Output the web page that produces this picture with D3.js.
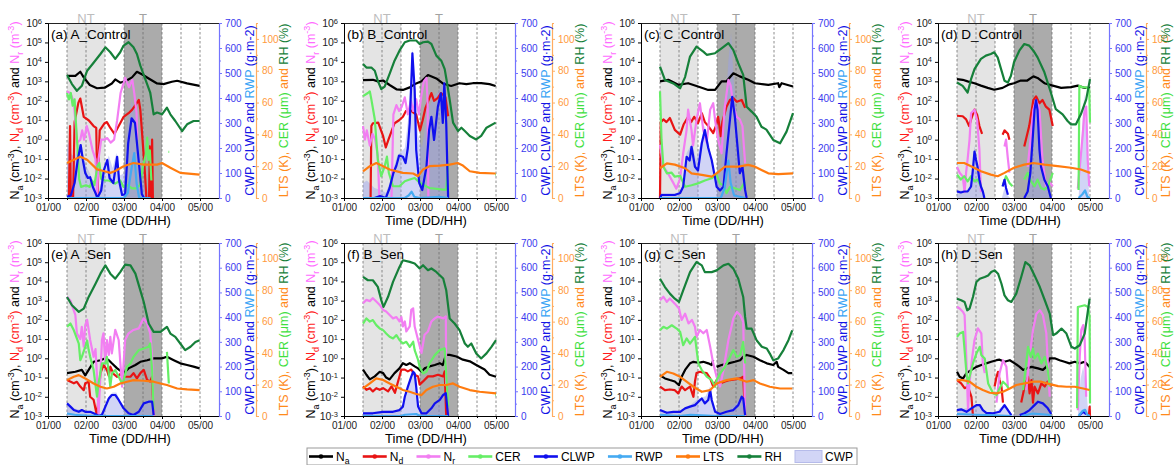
<!DOCTYPE html>
<meta charset="utf-8">
<head>
<style>
  body {margin: 0; background: #fff;}
  text {font-family: Arial, "Liberation Sans", sans-serif;}
</style>
<script src="https://d3js.org/d3.v7.min.js"></script>
</head>
<body>
<script>
// ---- data: [day since 01/00, value] ; null breaks a line ----
var aNa = [[0.5,1900],[0.72,1900],[0.85,3100],[0.94,1600],[1.1,650],[1.29,440],[1.49,470],[1.68,780],[1.77,1250],[1.9,850],[2.06,1070],[2.21,1600],[2.34,3100],[2.47,2300],[2.65,1400],[2.87,780],[3.04,720],[3.26,950],[3.4,1070],[3.66,780],[3.99,580]];
var aNd = [[0.5,1e-3],[0.55,1e-3],[0.58,5],[0.6,1e-3],[0.66,1e-3],[0.7,8],[0.8,80],[0.85,130],[0.94,15],[1.07,10],[1.2,5],[1.27,4],[1.3,1e-3],[1.36,3],[1.49,7],[1.55,8],[1.64,4],[1.75,2],[1.9,7],[1.99,15],[2.12,23],[2.21,34],[2.3,60],[2.39,110],[2.43,34],[2.47,3],[2.54,0.04],[2.59,1e-3],null,[2.66,1e-3],[2.68,0.45],[2.71,1e-3],[2.73,1e-3],[2.74,1],[2.76,1e-3]];
var aNr = [[0.5,300],[0.58,250],[0.63,160],[0.68,80],[0.74,3],[0.77,0.7],[0.85,1],[0.9,3],[0.95,1],[1.02,5],[1.08,2],[1.17,0.3],[1.25,0.1],[1.29,1e-3],[1.33,0.1],[1.4,1],[1.47,1],[1.56,1.2],[1.65,0.7],[1.74,1],[1.82,10],[1.91,250],[2.03,1500],[2.13,500],[2.22,1200],[2.27,250],[2.33,24],[2.35,1]];
var aCER = [[0.5,66],[0.55,62],[0.6,66],[0.65,58],[0.7,62],[0.72,53],[0.78,30],[0.82,12],[0.87,7],[1.0,8],[1.1,7],[1.16,11],[1.22,8],[1.3,20],[1.35,22],[1.4,12],[1.5,11],[1.6,11],[1.77,9],[1.9,11],[1.99,7],[2.1,8],[2.21,6],[2.32,6],[2.42,8],[2.5,20],[2.58,28],[2.61,38],[2.64,24],[2.68,30],[2.72,11],null,[3.17,29],[3.19,29]];
var aCLWP = [[0.5,5],[0.6,10],[0.7,60],[0.78,150],[0.86,212],[0.92,150],[0.98,100],[1.05,80],[1.11,83],[1.18,44],[1.25,20],[1.3,0],[1.4,30],[1.47,112],[1.56,152],[1.62,80],[1.72,60],[1.82,165],[1.87,70],[1.95,12],[2.03,15],[2.11,219],[2.2,319],[2.29,300],[2.35,205],[2.41,112],[2.47,15],[2.53,0]];
var aRWP = [[0.5,0],[2.0,0],[2.1,20],[2.2,120],[2.27,180],[2.33,60],[2.4,0],[2.7,0]];
var aCWP = [[0.5,200],[0.55,230],[0.6,180],[0.7,160],[0.8,220],[0.9,190],[1.0,130],[1.1,100],[1.2,60],[1.3,10],[1.4,60],[1.5,130],[1.6,170],[1.7,120],[1.8,180],[1.9,90],[2.0,100],[2.1,300],[2.2,390],[2.3,340],[2.4,200],[2.5,60],[2.6,20],[2.7,0]];
var aLTS = [[0.5,22],[0.85,26],[1.03,24],[1.29,18],[1.46,17],[1.64,15.8],[1.77,17],[1.99,20],[2.25,22],[2.52,21],[2.87,21],[3.0,22],[3.22,19],[3.48,15.8],[3.99,14.7]];
var aRH = [[0.5,77.3],[0.63,71.6],[0.76,67.4],[0.89,70.5],[1.03,80],[1.2,85],[1.38,90.5],[1.51,94.7],[1.64,91.6],[1.77,87.4],[1.9,91.6],[1.99,95.8],[2.12,97.9],[2.25,94.7],[2.34,90.5],[2.43,83.2],[2.56,74.7],[2.69,66.3],[2.78,52.6],[2.87,53.7],[3.0,52.6],[3.13,56.8],[3.22,52.6],[3.35,48.4],[3.53,42.1],[3.66,46.3],[3.83,48.4],[3.99,48.4]];

var bNa = [[0.5,1150],[0.76,1200],[0.89,1000],[1.03,1100],[1.2,650],[1.38,390],[1.55,360],[1.73,490],[1.9,780],[2.04,1000],[2.21,2100],[2.43,1400],[2.6,780],[2.82,580],[3.04,800],[3.22,720],[3.39,800],[3.61,800],[3.83,720],[3.99,580]];
var bNd = [[0.7,1e-3],[0.72,5],[0.76,7],[0.9,7.5],[1.03,1.5],[1.1,0.4],[1.17,1],[1.33,7],[1.45,10],[1.55,15],[1.63,30],[1.73,35],[1.82,25],[1.9,20],[2.0,3],[2.07,10],[2.14,40],[2.21,90],[2.3,250],[2.37,100],[2.47,140],[2.55,250],[2.61,200],[2.67,150],[2.74,16]];
var bNr = [[0.5,5],[0.55,1],[0.6,3],[0.68,0.5],[0.75,2],[0.82,1],[0.89,0.15],[0.93,1e-3],null,[1.25,1e-3],[1.3,20],[1.38,60],[1.45,30],[1.52,50],[1.6,150],[1.68,20],[1.76,100],[1.82,30],[1.9,120],[1.97,20],[2.03,150],[2.1,1000],[2.17,1500],[2.2,80],[2.22,1e-3]];
var bCER = [[0.5,64],[0.63,66],[0.68,67],[0.72,62],[0.81,49.5],[0.89,24],[0.98,13.7],[1.07,20],[1.13,26],[1.18,15.8],[1.29,7.4],[1.46,7.4],[1.6,10.5],[1.73,11.6],[1.86,12.6],[1.95,10.5],[2.08,8.4],[2.25,6.3],[2.6,5.3],[2.69,5.3],[2.74,22],null,[3.98,14.7],[4.0,14.7]];
var bCLWP = [[0.5,0],[0.8,0],[0.95,8],[1.1,0],[1.2,40],[1.3,100],[1.38,130],[1.45,170],[1.55,165],[1.62,140],[1.68,200],[1.73,300],[1.8,579],[1.86,432],[1.9,192],[1.98,60],[2.06,32],[2.17,125],[2.24,272],[2.3,325],[2.37,232],[2.47,365],[2.55,419],[2.6,300],[2.64,459],[2.69,300],[2.74,0]];
var bRWP = [[0.5,0],[1.6,0],[1.7,10],[1.78,25],[1.85,5],[2.0,0],[2.5,5],[2.74,0]];
var bCWP = [[0.5,60],[0.6,70],[0.8,40],[1.0,30],[1.1,20],[1.2,60],[1.4,170],[1.6,200],[1.7,330],[1.8,600],[1.86,450],[1.95,250],[2.05,200],[2.2,350],[2.35,400],[2.5,430],[2.64,470],[2.7,400],[2.74,0]];
var bLTS = [[0.5,16.8],[0.68,20],[0.85,22],[1.03,20],[1.2,17.9],[1.55,15.8],[1.82,15.4],[1.95,13.7],[2.08,17.9],[2.25,20],[2.52,20.4],[2.78,21],[2.99,22],[3.13,20.4],[3.31,16.8],[3.57,15.8],[3.99,15.4]];
var bRH = [[0.5,84.2],[0.59,82],[0.72,82],[0.81,80],[0.89,73.7],[0.98,68.4],[1.07,70],[1.2,78],[1.33,86.3],[1.46,92.6],[1.6,97.9],[1.73,99],[1.9,99],[1.99,96.8],[2.08,97.9],[2.21,98.3],[2.3,96.8],[2.43,89.5],[2.56,86.3],[2.65,81],[2.71,72.6],[2.78,62],[2.87,47.4],[3.0,42.1],[3.09,44.2],[3.18,42.1],[3.31,39],[3.48,36.8],[3.61,39],[3.75,44.2],[3.99,47.4]];

var cNa = [[0.5,1000],[0.72,1200],[0.98,660],[1.24,800],[1.5,540],[1.77,360],[1.95,360],[2.12,1000],[2.25,1000],[2.43,2600],[2.6,1800],[2.82,1200],[3.0,800],[3.35,660],[3.61,800],[3.64,500],[3.7,800],[4.0,540]];
var cNd = [[0.5,1e-3],[0.52,8],[0.59,11],[0.67,8],[0.76,13],[0.89,3.2],[1.03,1.8],[1.12,6],[1.24,15],[1.32,8],[1.4,15],[1.5,7],[1.6,23],[1.68,8],[1.77,5],[1.9,2.2],[1.97,5],[2.03,15],[2.1,1.5],[2.14,8],[2.25,50],[2.34,110],[2.43,140],[2.52,90],[2.65,110],[2.74,43]];
var cNr = [[0.5,0.55],[0.59,0.04],[0.7,0.02],[0.85,0.006],[0.93,0.003],[1.03,0.01],[1.11,0.2],[1.2,3.2],[1.24,35],[1.33,3],[1.37,0.5],[1.46,10],[1.55,75],[1.64,3],[1.73,0.7],[1.82,35],[1.9,75],[1.95,10],[2.03,1],[2.12,0.2],[2.2,40],[2.3,1200],[2.36,600],[2.43,50],[2.52,15],[2.6,11],[2.67,5],[2.74,0.06]];
var cCER = [[0.5,67],[0.54,36.5],[0.59,19.7],[0.68,15.5],[0.8,16],[0.89,13.4],[1.03,14],[1.16,7.1],[1.33,8],[1.5,9.2],[1.68,11],[1.86,12.4],[1.99,14.5],[2.08,9],[2.17,8.2],[2.25,3],[2.34,7],[2.47,6.1],[2.6,5],[2.74,10.3]];
var cCLWP = [[0.5,0],[0.54,12],[0.89,12],[1.03,20],[1.11,45],[1.2,165],[1.28,150],[1.33,205],[1.42,125],[1.5,110],[1.6,219],[1.68,272],[1.77,200],[1.86,152],[1.95,80],[1.99,45],[2.08,30],[2.17,45],[2.25,179],[2.34,312],[2.4,405],[2.47,325],[2.54,205],[2.6,99],[2.67,125],[2.74,32],[2.78,0]];
var cRWP = [[0.5,0],[2.1,0],[2.2,40],[2.3,150],[2.36,60],[2.45,10],[2.6,5],[2.74,0]];
var cCWP = [[0.5,20],[1.0,20],[1.1,60],[1.2,180],[1.35,220],[1.45,150],[1.6,240],[1.68,290],[1.8,200],[1.9,120],[2.0,80],[2.1,100],[2.2,300],[2.3,550],[2.37,660],[2.45,450],[2.55,300],[2.65,200],[2.74,50],[2.76,0]];
var cLTS = [[0.5,18.7],[0.68,21.8],[0.89,21],[1.16,18.7],[1.33,15.5],[1.6,14.5],[1.86,13.4],[1.99,15.5],[2.21,19.7],[2.56,19.7],[2.82,20.8],[3.0,19.7],[3.35,15.5],[3.61,15],[4.0,15.5]];
var cRH = [[0.5,82.6],[0.63,74.2],[0.85,72],[1.03,69],[1.16,76],[1.29,88.9],[1.46,95.2],[1.64,92],[1.73,90],[1.95,91],[2.12,94],[2.3,97.3],[2.43,93],[2.56,84.7],[2.69,77.4],[2.78,57.4],[2.91,54.3],[3.04,51],[3.17,44.8],[3.3,43],[3.48,36.5],[3.66,34.4],[3.83,41.7],[4.0,53.3]];

var dNa = [[0.5,1300],[0.65,1200],[0.78,1000],[0.96,800],[1.13,600],[1.31,460],[1.48,370],[1.7,460],[1.88,700],[2.0,800],[2.18,1100],[2.35,1100],[2.51,1800],[2.62,1500],[2.8,800],[3.02,600],[3.24,460],[3.5,500],[3.68,600],[3.85,460],[4.0,460]];
var dNd = [[0.5,17],[0.65,16],[0.74,11],[0.82,5],[0.87,11],[0.96,35],[1.03,19],[1.09,5],[1.16,2],null,[1.7,1.8],[1.75,3],[1.84,2],[1.88,1],null,[2.27,0.45],[2.4,5],[2.51,110],[2.58,170],[2.67,75],[2.75,110],[2.84,50],[2.93,35],[3.02,5]];
var dNr = [[0.5,0.04],[0.57,0.02],[0.65,0.013],[0.7,0.002],[0.74,0.02],[0.78,0.1],[0.83,1],[0.87,23],[0.96,35],[1.03,10],[1.09,0.3],[1.13,0.002],null,[1.75,0.45],[1.79,1],[1.84,0.1],[1.88,0.02],null,[2.36,0.04],[2.45,2],[2.51,35],[2.58,110],[2.67,35],[2.75,0.09],[2.84,0.004],[2.93,0.007],[3.02,0.004],null,[3.68,0.003],[3.81,2],[3.85,23],[3.9,50],[3.94,0.09],[3.98,0.004]];
var dCER = [[0.5,14.7],[0.6,11.6],[0.69,13.7],[0.78,10.5],[0.87,13.7],[0.96,10.5],[1.04,11.6],[1.13,7.4],null,[1.7,7.4],[1.79,13.7],[1.88,9.5],[1.96,7.4],null,[2.27,11.6],[2.36,15.8],[2.45,10.5],[2.54,7.4],[2.62,11.6],[2.71,6.3],[2.8,5.3],[2.89,7.4],[3.02,15.8],null,[3.7,5],[3.72,70.5],[3.81,69.5],[3.9,69.5],[3.98,68.4],[4.0,47.4]];
var dCLWP = [[0.5,26.6],[0.6,22],[0.69,26],[0.78,26],[0.87,46],[0.91,100],[0.96,186],[1.0,153],[1.04,126],[1.09,73],[1.13,46],[1.18,26],[1.22,0],null,[1.7,46],[1.75,73],[1.79,40],[1.84,13],null,[2.27,0],[2.36,26],[2.43,100],[2.49,233],[2.54,352],[2.58,392],[2.62,352],[2.67,193],[2.71,126],[2.8,73],[2.89,46],[2.97,0]];
var dRWP = [[3.7,0],[3.8,15],[3.87,30],[3.93,5],[4.0,0]];
var dCWP = [[0.5,30],[0.8,30],[0.88,90],[0.96,210],[1.04,130],[1.12,40],[1.2,0],null,[1.68,0],[1.75,40],[1.84,10],[1.9,0],null,[2.3,0],[2.4,80],[2.5,300],[2.58,410],[2.66,230],[2.8,80],[2.97,0],null,[3.7,0],[3.78,250],[3.85,420],[3.92,200],[3.98,0]];
var dLTS = [[0.5,22],[0.69,22],[0.87,20],[1.13,16.8],[1.39,14.7],[1.57,13.7],[1.75,15.8],[2.0,19],[2.27,21],[2.51,22],[2.8,21],[3.15,20],[3.5,19],[3.76,17.9],[4.0,15.8]];
var dRH = [[0.5,72.6],[0.65,70.5],[0.78,66.3],[0.87,74.7],[0.96,81],[1.13,87.4],[1.26,89.5],[1.39,90.5],[1.48,91.6],[1.57,88.4],[1.66,81],[1.75,73.7],[1.84,72.6],[1.92,76.8],[2.0,85.3],[2.14,92.6],[2.27,96.8],[2.4,95.8],[2.51,92.6],[2.62,88.4],[2.8,79],[2.97,66.3],[3.1,55.8],[3.28,52.6],[3.41,48.4],[3.5,46.3],[3.63,46.3],[3.76,52.6],[3.9,62],[4.0,74.7]];

var eNa = [[0.5,0.17],[0.72,0.2],[0.89,0.25],[0.98,0.13],[1.07,0.25],[1.2,0.66],[1.38,0.8],[1.51,1],[1.6,0.8],[1.68,0.55],[1.82,0.3],[1.99,0.17],[2.12,0.3],[2.3,0.45],[2.43,0.66],[2.61,0.8],[2.78,1],[3.0,1],[3.13,1.2],[3.31,0.8],[3.48,0.55],[3.66,0.45],[3.83,0.37],[3.99,0.3]];
var eNd = [[0.5,0.074],[0.68,0.05],[0.76,0.06],[0.85,0.034],[0.94,0.022],[0.98,0.05],[1.07,0.06],[1.11,0.01],[1.2,0.007],[1.29,1e-3],[1.38,0.17],[1.46,0.45],[1.55,0.25],[1.6,0.12],[1.64,0.37],[1.73,0.15],[1.82,0.11],[1.9,0.15],[2.03,0.11],[2.17,0.11],[2.25,0.17],[2.34,0.09],[2.43,0.17],[2.52,0.25],[2.61,0.074],[2.69,0.063],[2.74,0.11],[2.78,1e-3]];
var eNr = [[0.5,1600],[0.59,1000],[0.68,300],[0.72,180],[0.76,20],[0.85,10],[0.89,44],[0.94,4],[0.98,54],[1.03,100],[1.07,30],[1.11,9],[1.2,1.2],[1.25,3],[1.29,0.11],[1.33,1e-3],[1.42,9],[1.46,20],[1.51,0.5],[1.55,9],[1.6,1.5],[1.64,13],[1.68,1.8],[1.77,30],[1.86,9],[1.95,0.034],[2.03,9],[2.12,20],[2.25,30],[2.39,36],[2.47,80],[2.52,120],[2.61,65],[2.69,20],[2.74,1.2],[2.78,1e-3]];
var eCER = [[0.5,56.7],[0.59,58.8],[0.68,54.5],[0.81,46],[0.85,35.5],[0.89,37.6],[0.98,44],[1.03,48],[1.07,41.9],[1.11,37.6],[1.2,29.2],[1.29,12.3],[1.33,20.7],[1.42,33.4],[1.51,33.4],[1.55,37.6],[1.64,18.6],[1.68,27],[1.77,29.2],[1.86,25],[1.95,20.7],[1.99,22.8],[2.08,31.3],[2.17,33.4],[2.25,37.6],[2.39,41.9],[2.52,42.9],[2.65,44],[2.69,46.1],[2.74,29.2],[2.78,3.8],null,[3.13,40.8],[3.18,20.7]];
var eCLWP = [[0.5,51],[0.59,38],[0.68,24],[0.81,17],[0.89,24],[0.98,17],[1.11,17],[1.2,11],[1.29,4],[1.33,0],[1.42,5],[1.51,38],[1.6,71],[1.68,85],[1.77,85],[1.86,65],[1.99,31],[2.12,11],[2.25,4],[2.39,17],[2.52,51],[2.65,58],[2.74,58],[2.78,4]];
var eRWP = [[0.5,10],[0.7,5],[1.0,2],[1.5,0],[2.78,0]];
var eCWP = [[0.5,55],[0.7,30],[1.0,20],[1.29,5],[1.33,0],[1.45,20],[1.6,80],[1.7,95],[1.8,95],[1.9,60],[2.0,30],[2.2,10],[2.4,25],[2.55,60],[2.7,65],[2.78,0]];
var eLTS = [[0.5,22.8],[0.68,25],[0.81,26],[0.98,23.9],[1.2,20.7],[1.38,18.6],[1.55,17.5],[1.73,18.6],[1.9,20.7],[2.08,21.8],[2.25,22.8],[2.52,22.4],[2.78,21.8],[2.96,20.7],[3.13,19.7],[3.4,17.5],[3.66,16.9],[3.99,16.5]];
var eRH = [[0.5,75.7],[0.63,70.4],[0.81,66.2],[0.94,68.3],[1.07,75.7],[1.25,84.1],[1.38,90.5],[1.51,95.8],[1.64,90.5],[1.77,87.3],[1.9,91.5],[2.03,96.2],[2.17,95.8],[2.3,90.5],[2.43,79.9],[2.52,72.5],[2.65,58.8],[2.78,53.5],[2.96,53.5],[3.13,56.7],[3.22,52.4],[3.35,50.3],[3.48,46.1],[3.61,41.9],[3.75,44],[3.88,47.1],[3.99,48.2]];

var fNa = [[0.5,0.26],[0.59,0.14],[0.68,0.08],[0.81,0.115],[0.94,0.2],[1.03,0.17],[1.11,0.1],[1.2,0.08],[1.33,0.17],[1.46,0.3],[1.55,0.56],[1.64,0.45],[1.73,0.56],[1.86,0.38],[1.95,0.3],[2.04,0.2],[2.12,0.3],[2.25,0.38],[2.39,0.45],[2.52,0.56],[2.6,0.45],[2.68,1.5],[2.78,1.5],[2.96,1.25],[3.13,0.85],[3.31,0.7],[3.48,0.45],[3.7,0.26],[3.83,0.14],[4.0,0.11]];
var fNd = [[0.5,0.035],[0.59,0.023],[0.68,0.028],[0.76,0.019],[0.85,0.028],[0.94,0.023],[1.03,0.028],[1.16,0.019],[1.25,0.035],[1.34,0.016],[1.51,0.26],[1.6,0.26],[1.68,0.21],[1.77,0.26],[1.86,0.14],[1.95,0.115],[1.99,0.043],[2.08,0.063],[2.21,0.115],[2.34,0.115],[2.47,0.14],[2.61,0.115],[2.65,0.21],[2.69,1e-3]];
var fNr = [[0.5,740],[0.59,1100],[0.68,950],[0.76,1350],[0.85,900],[0.94,600],[1.03,330],[1.11,275],[1.2,180],[1.29,120],[1.38,140],[1.46,83],[1.51,140],[1.55,46],[1.6,83],[1.64,25],[1.73,46],[1.77,330],[1.82,400],[1.86,45],[1.95,9],[2.04,1.9],[2.12,17],[2.21,25],[2.3,83],[2.39,120],[2.47,150],[2.61,120],[2.68,150],[2.69,0.035]];
var fCER = [[0.5,58.8],[0.59,62],[0.68,60],[0.76,61],[0.85,57.8],[0.94,55.7],[1.03,54.6],[1.11,52.5],[1.2,50.4],[1.29,49.3],[1.38,51.4],[1.46,48.3],[1.55,46.1],[1.64,47.2],[1.73,44],[1.82,47.2],[1.86,41.9],[1.95,35.6],[1.99,31.3],[2.08,27.1],[2.17,28.1],[2.25,33.4],[2.39,38.7],[2.52,41.9],[2.65,43],[2.69,27],[2.74,6],null,[3.98,13.3],[4.0,13.3]];
var fCLWP = [[0.5,11],[0.76,11],[1.03,17],[1.29,17],[1.46,24],[1.55,38],[1.6,78],[1.68,118],[1.77,159],[1.82,179],[1.86,172],[1.9,118],[1.95,38],[2.04,11],[2.17,11],[2.3,31],[2.39,51],[2.52,65],[2.61,85],[2.68,92],[2.74,0]];
var fRWP = [[0.5,0],[1.5,0],[1.6,5],[1.9,8],[2.0,0],[2.74,0]];
var fCWP = [[0.5,15],[1.5,25],[1.6,80],[1.7,130],[1.8,185],[1.86,175],[1.92,100],[1.97,30],[2.05,12],[2.3,35],[2.5,70],[2.68,95],[2.74,0]];
var fLTS = [[0.5,17.6],[0.68,20.7],[0.85,23.9],[1.03,22.9],[1.2,20.7],[1.38,18.6],[1.55,16.5],[1.73,15.4],[1.9,14],[2.04,13.3],[2.17,16.5],[2.34,18.6],[2.52,19.7],[2.69,19.7],[2.87,20.7],[3.04,18.6],[3.31,16.5],[3.57,15.4],[4.0,14.4]];
var fRH = [[0.5,88.5],[0.63,86.3],[0.76,86.3],[0.89,82.1],[0.98,73.7],[1.04,69.4],[1.16,75.8],[1.29,85.3],[1.46,94.8],[1.55,99],[1.73,98],[1.86,97],[1.99,93.8],[2.08,95.9],[2.21,92.7],[2.3,93.8],[2.43,91.6],[2.61,87.4],[2.69,80],[2.78,62],[2.91,58.8],[3.04,54.6],[3.18,46.1],[3.26,44],[3.35,46.1],[3.48,39.8],[3.61,36.6],[3.75,39.8],[3.88,44],[4.0,48.3]];

var gNa = [[0.5,0.13],[0.63,0.09],[0.76,0.074],[0.89,0.062],[1.0,0.04],[1.07,0.11],[1.16,0.25],[1.29,0.55],[1.38,0.66],[1.51,0.59],[1.64,0.66],[1.77,0.55],[1.86,0.45],[1.9,0.8],null,[1.99,0.36],[2.12,0.45],[2.3,0.55],[2.47,0.66],[2.61,0.8],[2.69,1.2],[2.78,1.5],[2.96,1.2],[3.13,0.8],[3.31,0.55],[3.48,0.45],[3.57,0.66],[3.61,0.36],[3.75,0.25],[3.88,0.17],[3.98,0.17]];
var gNd = [[0.5,0.034],[0.63,0.022],[0.76,0.024],[0.89,0.022],[0.98,0.015],[1.07,0.034],[1.16,0.022],[1.29,0.034],[1.38,0.01],[1.42,0.062],[1.46,0.17],[1.55,0.2],[1.64,0.18],[1.73,0.17],[1.82,0.09],[1.9,0.034],[1.99,0.074],[2.08,0.05],[2.21,0.062],[2.34,0.074],[2.47,0.08],[2.61,0.09],[2.69,0.11],[2.74,1e-3]];
var gNr = [[0.5,1050],[0.59,1600],[0.68,870],[0.76,1300],[0.89,700],[1.0,390],[1.07,100],[1.16,210],[1.25,65],[1.34,100],[1.42,44],[1.46,13],[1.55,30],[1.64,20],[1.73,30],[1.82,4],[1.9,0.55],[1.99,0.11],[2.08,0.034],[2.17,0.25],[2.3,9],[2.43,117],[2.52,260],[2.61,180],[2.69,80],[2.74,1e-3]];
var gCER = [[0.5,54.5],[0.59,56.7],[0.68,55.6],[0.81,57.7],[0.94,55.6],[1.03,53.5],[1.11,45],[1.2,49.3],[1.29,46],[1.42,50.3],[1.51,33.4],[1.6,29.2],[1.73,25],[1.86,22.8],[1.95,18.6],[1.99,22.8],[2.08,27],[2.21,31.3],[2.3,35.5],[2.43,41.9],[2.52,37.6],[2.61,38.7],[2.69,47.1],[2.74,33.4]];
var gCLWP = [[0.5,24],[0.68,13],[0.85,17],[1.03,17],[1.16,31],[1.29,38],[1.42,44],[1.51,58],[1.6,71],[1.68,51],[1.77,65],[1.82,105],[1.86,65],[1.95,17],[2.08,8],[2.25,17],[2.43,24],[2.56,44],[2.65,78],[2.69,71],[2.74,4]];
var gRWP = [[0.5,5],[1.0,0],[1.3,5],[2.0,0],[2.74,0]];
var gCWP = [[0.5,20],[1.0,15],[1.3,45],[1.5,70],[1.7,80],[1.82,120],[1.9,60],[2.0,10],[2.3,25],[2.5,50],[2.68,85],[2.74,0]];
var gLTS = [[0.5,24.9],[0.68,28.1],[0.85,27],[1.03,24.9],[1.2,21.8],[1.38,18.6],[1.6,15.4],[1.82,16.5],[1.99,20.7],[2.25,22.8],[2.52,23.9],[2.78,21.8],[2.96,22.8],[3.13,20.7],[3.39,18.6],[3.66,17.5],[3.98,17.5]];
var gRH = [[0.5,87.3],[0.63,82],[0.76,77.8],[0.89,74.6],[1.0,72.5],[1.11,79.9],[1.29,91.5],[1.46,97.9],[1.6,95.8],[1.68,91.5],[1.86,91.5],[1.99,92.6],[2.17,95.8],[2.3,96.8],[2.43,93.7],[2.56,87.3],[2.69,75.7],[2.74,63],[2.78,55.6],[2.91,55.6],[3.04,48.2],[3.18,44],[3.31,42.9],[3.39,39.7],[3.48,35.5],[3.61,36.6],[3.75,41.9],[3.88,48.2],[3.98,54.5]];

var hNa = [[0.5,0.2],[0.57,0.11],[0.66,0.09],[0.75,0.17],[0.88,0.25],[1.01,0.36],[1.14,0.45],[1.27,0.55],[1.4,0.66],[1.54,0.8],[1.62,0.85],[1.75,0.66],[1.89,0.8],[2.02,0.55],[2.15,0.36],[2.24,0.25],[2.33,0.3],[2.46,0.36],[2.63,0.3],[2.76,0.25],[2.85,0.36],[2.94,1],[3.07,1],[3.2,0.8],[3.33,0.66],[3.46,0.55],[3.6,0.66],[3.73,0.55],[3.86,0.66],[3.99,0.36]];
var hNd = [[0.5,0.074],[0.61,0.05],[0.7,0.028],[0.79,0.034],[0.88,0.01],[0.92,1e-3],null,[1.49,0.034],[1.54,0.11],[1.58,0.2],[1.62,0.074],[1.67,0.034],[1.71,0.005],null,[2.19,0.005],[2.28,0.034],[2.37,0.11],[2.41,0.015],[2.46,0.074],[2.5,0.005],[2.54,0.034],[2.63,0.015],[2.72,0.05],[2.81,0.034],[2.89,0.063],[2.98,0.034],null,[3.97,1e-3],[3.99,0.003],[4.0,1e-3]];
var hNr = [[0.5,480],[0.57,390],[0.66,260],[0.7,180],[0.75,0.55],[0.79,0.002],[0.83,0.05],[0.88,0.55],[0.96,9],[1.05,36],[1.14,20],[1.18,0.55],[1.23,0.17],null,[1.54,0.005],[1.62,0.17],[1.71,0.8],[1.8,0.36],[1.84,0.034],null,[2.32,0.022],[2.41,1.2],[2.5,30],[2.59,210],[2.68,320],[2.76,180],[2.85,20],[2.89,0.55],[2.94,0.01],null,[3.68,0.002],[3.73,1.2],[3.77,30],[3.82,54],[3.86,9],[3.9,0.01]];
var hCER = [[0.5,50.3],[0.57,52.4],[0.66,53.5],[0.7,41.9],[0.75,27],[0.79,20.7],[0.83,25],[0.92,33.4],[1.01,39.7],[1.1,44],[1.14,38.7],[1.23,36.6],[1.32,20.7],[1.45,14.4],[1.54,13.3],[1.62,17.5],[1.71,21.8],[1.8,19.7],[1.86,17.5],null,[2.24,16.5],[2.32,33.4],[2.37,44],[2.44,37.6],[2.5,42.9],[2.54,36.6],[2.63,39.7],[2.72,33.4],[2.81,37.6],[2.89,29.2],[2.94,18.6],null,[3.66,5],[3.68,69.3],[3.86,70.4],[3.95,69.3],[3.99,63],[4.0,8]];
var hCLWP = [[0.5,24],[0.61,27],[0.75,17],[0.88,31],[1.01,44],[1.1,44],[1.18,24],[1.27,13],[1.45,11],[1.62,17],[1.75,44],[1.84,24],[1.93,4],null,[2.15,4],[2.28,11],[2.41,24],[2.54,44],[2.63,58],[2.76,51],[2.89,31],[2.98,8],null,[3.73,4],[3.82,17],[3.9,8]];
var hRWP = [[0.5,8],[1.0,5],[1.5,3],[1.93,0],null,[2.2,0],[2.5,10],[2.9,5],[2.98,0],null,[3.7,0],[3.8,20],[3.87,25],[3.93,5],[4.0,0]];
var hCWP = [[0.5,25],[0.9,35],[1.1,50],[1.25,15],[1.5,12],[1.75,50],[1.93,5],[2.15,5],[2.54,50],[2.65,65],[2.9,35],[2.98,0],null,[3.68,0],[3.75,150],[3.82,200],[3.9,120],[3.96,0]];
var hLTS = [[0.5,22.8],[0.66,22.8],[0.83,21.8],[1.01,18.6],[1.18,16.5],[1.36,14.8],[1.54,14.4],[1.71,15.4],[1.89,17.5],[2.06,19.7],[2.28,20.7],[2.5,21.8],[2.72,21.8],[2.94,20.3],[3.16,19],[3.38,18.6],[3.6,18.6],[3.82,17.5],[3.99,16.5]];
var hRH = [[0.5,74.6],[0.61,73.6],[0.7,72.5],[0.77,67.2],[0.83,68.3],[0.92,75.7],[1.01,85.2],[1.1,87.3],[1.23,88.4],[1.32,89.4],[1.4,91.5],[1.49,92.6],[1.58,90.5],[1.67,84.1],[1.75,76.7],[1.84,73.6],[1.93,72.5],[2.06,77.8],[2.19,88.4],[2.3,97.9],[2.41,95.8],[2.54,89.4],[2.68,82],[2.81,73.6],[2.94,65.1],[3.03,51.4],[3.11,52.4],[3.25,55.6],[3.38,52.4],[3.51,44],[3.6,42.9],[3.73,45],[3.86,52.4],[3.99,74.6]];

var dayTicks = [0, 1, 2, 3, 4];
var dashDays = [0.5, 1, 1.5, 2, 2.5, 3, 3.5, 4];
var logTicks = [1e-3, 1e-2, 1e-1, 1, 1e1, 1e2, 1e3, 1e4, 1e5, 1e6];

var panels = [
  {label: "(a) A_Control", col: 0, row: 0, Na: aNa, Nd: aNd, Nr: aNr, CER: aCER, CLWP: aCLWP, RWP: aRWP, CWP: aCWP, LTS: aLTS, RH: aRH},
  {label: "(b) B_Control", col: 1, row: 0, Na: bNa, Nd: bNd, Nr: bNr, CER: bCER, CLWP: bCLWP, RWP: bRWP, CWP: bCWP, LTS: bLTS, RH: bRH},
  {label: "(c) C_Control", col: 2, row: 0, Na: cNa, Nd: cNd, Nr: cNr, CER: cCER, CLWP: cCLWP, RWP: cRWP, CWP: cCWP, LTS: cLTS, RH: cRH},
  {label: "(d) D_Control", col: 3, row: 0, Na: dNa, Nd: dNd, Nr: dNr, CER: dCER, CLWP: dCLWP, RWP: dRWP, CWP: dCWP, LTS: dLTS, RH: dRH},
  {label: "(e) A_Sen", col: 0, row: 1, Na: eNa, Nd: eNd, Nr: eNr, CER: eCER, CLWP: eCLWP, RWP: eRWP, CWP: eCWP, LTS: eLTS, RH: eRH},
  {label: "(f) B_Sen", col: 1, row: 1, Na: fNa, Nd: fNd, Nr: fNr, CER: fCER, CLWP: fCLWP, RWP: fRWP, CWP: fCWP, LTS: fLTS, RH: fRH},
  {label: "(g) C_Sen", col: 2, row: 1, Na: gNa, Nd: gNd, Nr: gNr, CER: gCER, CLWP: gCLWP, RWP: gRWP, CWP: gCWP, LTS: gLTS, RH: gRH},
  {label: "(h) D_Sen", col: 3, row: 1, Na: hNa, Nd: hNd, Nr: hNr, CER: hCER, CLWP: hCLWP, RWP: hRWP, CWP: hCWP, LTS: hLTS, RH: hRH}
];

var col = {Na: "#000000", Nd: "#e81414", Nr: "#f27ef2", CER: "#66ee66", CLWP: "#1010ee",
           RWP: "#45aaf2", LTS: "#ff7b0f", RH: "#16803a", CWP: "#9aa0ea"};

var colX = [48, 344, 641, 938], plotW = 171;
var rows = [{top: 23, bottom: 198}, {top: 243, bottom: 416}];

var svg = d3.select("body").append("svg")
    .attr("width", 1174)
    .attr("height", 465);

panels.forEach(drawPanel);
drawLegend();

function rich(sel, parts, size) {
  var shift = 0;
  parts.forEach(function(p) {
    var target = p[2] == "sub" ? 0.28 * size : p[2] == "sup" ? -0.4 * size : 0;
    var t = sel.append("tspan").text(p[0]).attr("fill", p[1]).attr("dy", target - shift);
    if (p[2]) t.attr("font-size", size * 0.72);
    shift = target;
  });
}

function drawPanel(p, idx) {
  var x0 = colX[p.col], x1 = x0 + plotW,
      y0 = rows[p.row].top, y1 = rows[p.row].bottom;

  var x = d3.scaleLinear().domain([0, 4.5]).range([x0, x1]);
  var yL = d3.scaleLog().domain([1e-3, 1e6]).range([y1, y0]).clamp(true);
  var yB = d3.scaleLinear().domain([0, 700]).range([y1, y0]);
  var yO = d3.scaleLinear().domain([0, 110]).range([y1, y0]);

  var g = svg.append("g");
  var clipId = "clip" + idx;
  g.append("clipPath").attr("id", clipId).append("rect")
      .attr("x", x0).attr("y", y0).attr("width", plotW).attr("height", y1 - y0);

  // shaded periods
  g.append("rect").attr("x", x(0.5)).attr("width", x(1.5) - x(0.5))
      .attr("y", y0).attr("height", y1 - y0).attr("fill", "#e4e4e4");
  g.append("rect").attr("x", x(2)).attr("width", x(3) - x(2))
      .attr("y", y0).attr("height", y1 - y0).attr("fill", "#ababab");

  g.selectAll(".vd").data(dashDays).enter().append("line")
      .attr("x1", d => x(d)).attr("x2", d => x(d))
      .attr("y1", y0).attr("y2", y1)
      .attr("stroke", "#707070").attr("stroke-width", 0.8)
      .attr("stroke-dasharray", "2.5,2");

  g.append("text").attr("x", x(1)).attr("y", y0 - 0.5).attr("text-anchor", "middle")
      .attr("font-size", 13).attr("fill", "#bdbdbd").text("NT");
  g.append("text").attr("x", x(2.5)).attr("y", y0 - 0.5).attr("text-anchor", "middle")
      .attr("font-size", 13).attr("fill", "#a2a2a2").text("T");

  var plot = g.append("g").attr("clip-path", "url(#" + clipId + ")");

  var area = d3.area().defined(d => d != null)
      .x(d => x(d[0])).y0(y1).y1(d => yB(d[1]));
  plot.append("path").datum(p.CWP).attr("d", area)
      .attr("fill", col.CWP).attr("fill-opacity", 0.45);

  function addLine(key, yScale) {
    var line = d3.line().defined(d => d != null)
        .x(d => x(d[0])).y(d => yScale(d[1]));
    plot.append("path").datum(p[key]).attr("d", line)
        .attr("fill", "none").attr("stroke", col[key])
        .attr("stroke-width", 2.2).attr("stroke-linejoin", "round");
  }
  addLine("Na", yL);
  addLine("Nd", yL);
  addLine("Nr", yL);
  addLine("CER", yO);
  addLine("CLWP", yB);
  addLine("RWP", yB);
  addLine("LTS", yO);
  addLine("RH", yO);

  // frame top
  g.append("line").attr("x1", x0).attr("x2", x1).attr("y1", y0 + 0.5).attr("y2", y0 + 0.5)
      .attr("stroke", "#222").attr("stroke-width", 1);

  // x axis
  var xa = g.append("g").attr("transform", "translate(0," + y1 + ")")
      .call(d3.axisBottom(x).tickValues(dayTicks).tickSize(3).tickSizeOuter(0)
            .tickFormat(d => "0" + (d + 1) + "/00"));
  g.append("g").attr("transform", "translate(0," + y1 + ")")
      .call(d3.axisBottom(x).tickValues(dashDays.filter(d => d % 1)).tickSize(2).tickSizeOuter(0).tickFormat(""))
      .select(".domain").remove();
  xa.attr("font-family", null).attr("font-size", 10);
  xa.selectAll("text").attr("fill", "#222");

  g.append("text").attr("x", x0 + 82).attr("y", y1 + 27).attr("text-anchor", "middle")
      .attr("font-size", 13).text("Time (DD/HH)");

  // left log axis
  var ya = g.append("g").attr("transform", "translate(" + x0 + ",0)")
      .call(d3.axisLeft(yL).tickValues(logTicks).tickSize(3).tickSizeOuter(0));
  ya.attr("font-family", null).attr("font-size", 10.5);
  ya.selectAll(".tick text").text(null).attr("fill", "#222").each(function(d) {
    var s = d3.select(this);
    s.append("tspan").text("10");
    s.append("tspan").text(Math.round(Math.log10(d))).attr("dy", "-0.45em").attr("font-size", 7.5);
  });

  // right blue axis
  var yb = g.append("g").attr("transform", "translate(" + x1 + ",0)")
      .call(d3.axisRight(yB).tickValues(d3.range(0, 701, 100)).tickSize(3).tickSizeOuter(0));
  g.append("g").attr("transform", "translate(" + x1 + ",0)")
      .call(d3.axisRight(yB).tickValues(d3.range(50, 700, 100)).tickSize(2).tickSizeOuter(0).tickFormat(""))
      .call(s => s.select(".domain").remove())
      .selectAll("line").attr("stroke", "#7474ff");
  yb.attr("font-family", null).attr("font-size", 10);
  yb.select(".domain").attr("stroke", "#7474ff").attr("stroke-width", 1.2);
  yb.selectAll(".tick line").attr("stroke", "#7474ff");
  yb.selectAll(".tick text").attr("fill", "#3a3aee");

  // orange axis
  var ox = x1 + 37;
  var yo = g.append("g").attr("transform", "translate(" + ox + ",0)")
      .call(d3.axisRight(yO).tickValues([0, 20, 40, 60, 80, 100]).tickSize(3).tickSizeOuter(0));
  g.append("g").attr("transform", "translate(" + ox + ",0)")
      .call(d3.axisRight(yO).tickValues([10, 30, 50, 70, 90, 110]).tickSize(2).tickSizeOuter(0).tickFormat(""))
      .call(s => s.select(".domain").remove())
      .selectAll("line").attr("stroke", "#ffad60");
  yo.attr("font-family", null).attr("font-size", 10);
  yo.select(".domain").attr("stroke", "#ffad60").attr("stroke-width", 1.2);
  yo.selectAll(".tick text").attr("fill", "#ff9a3c");
  yo.selectAll(".tick line").attr("stroke", "#ffad60");

  var cy = (y0 + y1) / 2;
  var k = "#000", r = "#ff1a1a", pk = "#ff6bff";
  var t1 = g.append("text").attr("transform", "translate(" + (x0 - 29) + "," + cy + ") rotate(-90)")
      .attr("text-anchor", "middle").attr("font-size", 12.5);
  rich(t1, [["N", k], ["a", k, "sub"], [" (cm", k], ["-3", k, "sup"], ["), ", k],
            ["N", r], ["d", r, "sub"], [" (cm", r], ["-3", r, "sup"], [")", r],
            [" and ", k], ["N", pk], ["r", pk, "sub"], [" (m", pk], ["-3", pk, "sup"], [")", pk]], 12.5);

  var bl = "#1414e6", lb = "#3aa4f5";
  var t2 = g.append("text").attr("transform", "translate(" + (x1 + 35) + "," + cy + ") rotate(-90)")
      .attr("text-anchor", "middle").attr("font-size", 12.5);
  rich(t2, [["CWP, CLWP and ", bl], ["RWP", lb], [" (g\u00b7m-2)", bl]], 12.5);

  // the last panel's title sits against the page edge; keep it inside
  var o = "#ff8a1a", lg = "#3ee03e", dg = "#16803a";
  var tx = Math.min(ox + 32, 1170);
  var t3 = g.append("text").attr("transform", "translate(" + tx + "," + cy + ") rotate(-90)")
      .attr("text-anchor", "middle").attr("font-size", 12.5);
  rich(t3, [["LTS (K), ", o], ["CER (\u03bcm)", lg], [" and ", o], ["RH (%)", dg]], 12.5);

  g.append("text").attr("x", x0 + 3).attr("y", y0 + 16).attr("font-size", 13.5)
      .text(p.label);
}

function drawLegend() {
  var items = [
    {key: "Na", label: [["N", "#000"], ["a", "#000", "sub"]]},
    {key: "Nd", label: [["N", "#000"], ["d", "#000", "sub"]]},
    {key: "Nr", label: [["N", "#000"], ["r", "#000", "sub"]]},
    {key: "CER", label: [["CER", "#000"]]},
    {key: "CLWP", label: [["CLWP", "#000"]]},
    {key: "RWP", label: [["RWP", "#000"]]},
    {key: "LTS", label: [["LTS", "#000"]]},
    {key: "RH", label: [["RH", "#000"]]},
    {key: "CWP", label: [["CWP", "#000"]], box: true}
  ];
  var bx = 307, bw = 550, by = 448, bh = 17, cy = by + 8.5;
  var lg = svg.append("g");
  lg.append("rect").attr("x", bx).attr("y", by).attr("width", bw).attr("height", bh)
      .attr("fill", "#fff").attr("stroke", "#9a9a9a");

  // measure labels first
  var texts = items.map(function(it) {
    var t = lg.append("text").attr("y", cy + 4.5).attr("font-size", 12);
    rich(t, it.label, 12);
    return t;
  });
  var widths = texts.map(t => t.node().getComputedTextLength());
  var sym = items.map(it => it.box ? 27 : 24);
  var used = d3.sum(widths) + d3.sum(sym) + items.length * 3;
  var gap = (bw - 6 - used) / (items.length - 1);

  var cx = bx + 2;
  items.forEach(function(it, i) {
    if (it.box) {
      lg.append("rect").attr("x", cx).attr("y", by + 2.5).attr("width", sym[i]).attr("height", bh - 5)
          .attr("fill", "#d2d5f6").attr("stroke", "#b6bbea");
    } else {
      lg.append("line").attr("x1", cx).attr("x2", cx + sym[i]).attr("y1", cy).attr("y2", cy)
          .attr("stroke", col[it.key]).attr("stroke-width", 2.6);
      lg.append("circle").attr("cx", cx + sym[i] / 2).attr("cy", cy).attr("r", 2.3)
          .attr("fill", col[it.key]);
    }
    texts[i].attr("x", cx + sym[i] + 3);
    cx += sym[i] + 3 + widths[i] + gap;
  });
}
</script>
</body>
